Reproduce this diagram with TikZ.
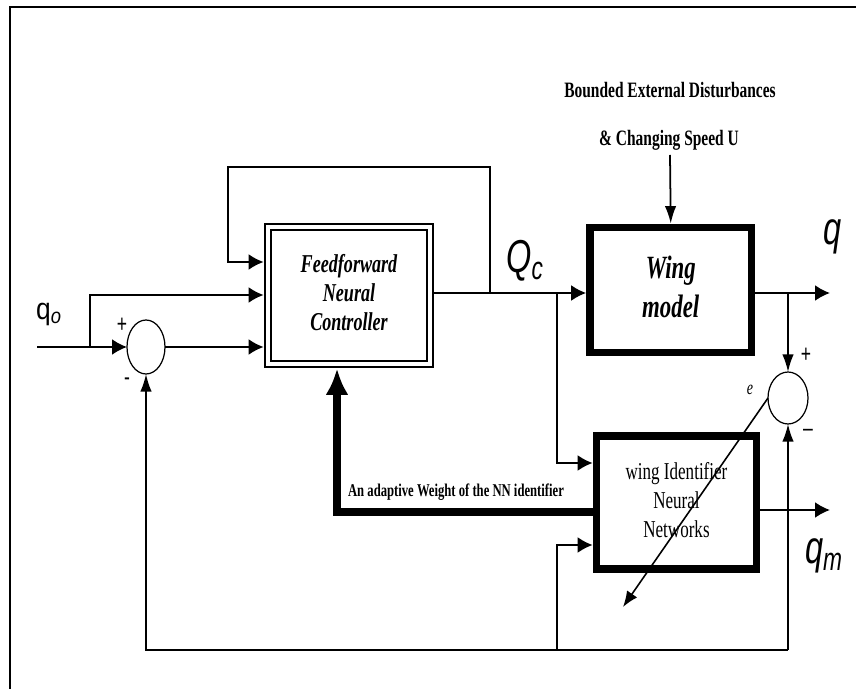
\documentclass[tikz,border=0pt]{standalone}
\usepackage{fontspec}
\setmainfont{Liberation Serif}
\setsansfont{Liberation Sans}
\usepackage{graphicx}
\usetikzlibrary{shapes.geometric,arrows.meta}
\newcommand{\tallt}[1]{\scalebox{1}[1.42]{#1}}

\begin{document}
\begin{tikzpicture}[
  ctrlbox/.style={rectangle, draw, double, line width=1.3pt, double distance=2.3pt,
                  minimum width=3.24cm, minimum height=2.74cm, inner sep=0pt, outer sep=2.5pt,
                  font=\fontsize{10.3}{11.6}\selectfont\bfseries\itshape},
  plantbox/.style={rectangle, draw, line width=4.4pt, inner sep=0pt,
                   minimum width=3.23cm},
  sumj/.style={ellipse, draw, line width=0.7pt, inner sep=0pt, outer sep=0pt},
  ln/.style={line width=1pt},
  sig/.style={ln, -{Latex[length=8.5pt,width=9pt]}},
  sigv/.style={ln, -{Latex[length=10pt,width=6.5pt]}},
  adapt/.style={line width=4pt, -{Latex[length=15pt,width=13pt]}},
  sgn/.style={font=\sffamily\fontsize{10}{10}\selectfont, inner sep=0pt},
  lbl/.style={font=\sffamily\itshape\fontsize{18.5}{18.5}\selectfont, inner sep=0pt}]

\useasboundingbox[fill=white] (0,0) rectangle (17.12,-13.78);
\draw[line width=1.2pt] (17.12,-0.14) -- (0.2,-0.14) -- (0.2,-13.78);

%% blocks
\node[ctrlbox] (ctrl) at (6.98,-5.91)
  {\tallt{\begin{tabular}{@{}c@{}}Feedforward\\Neural\\Controller\end{tabular}}};
\node[plantbox, minimum height=2.5cm, font=\fontsize{13}{16}\selectfont\bfseries\itshape]
  (wing) at (13.415,-5.8) {\tallt{\begin{tabular}{@{}c@{}}Wing\\model\end{tabular}}};
\node[plantbox, minimum width=3.2cm, minimum height=2.66cm, font=\fontsize{9.7}{11.6}\selectfont]
  (ident) at (13.53,-10.05)
  {\tallt{\begin{tabular}{@{}c@{}}wing Identifier\\Neural\\Networks\end{tabular}}};
\node[sumj, minimum width=0.76cm, minimum height=1.08cm] (sum1) at (2.92,-6.94) {};
\node[sumj, minimum width=0.8cm, minimum height=1.04cm] (sum2) at (15.76,-7.96) {};

%% labels
\node[font=\fontsize{8.8}{8.8}\selectfont\bfseries] (dist1) at (13.4,-1.8)
  {\tallt{Bounded External Disturbances}};
\node[font=\fontsize{8.8}{8.8}\selectfont\bfseries] (dist2) at (13.38,-2.8)
  {\tallt{\& Changing Speed U}};
\node[font=\sffamily\fontsize{15}{15}\selectfont, inner sep=0pt] (qo) at (0.98,-6.28)
  {\scalebox{1}[1.15]{q\textsubscript{\itshape o}}};
\node[lbl] (qc) at (10.5,-5.22) {\tallt{Q\textsubscript{c}}};
\node[lbl] (q) at (16.66,-4.74) {\tallt{q}};
\node[lbl] (qm) at (16.48,-11.12) {\tallt{q\textsubscript{m}}};
\node[font=\itshape\fontsize{8}{8}\selectfont, inner sep=0pt] (e) at (15.0,-7.8) {\tallt{e}};
\node[font=\bfseries\fontsize{7.2}{7.2}\selectfont, inner sep=0pt] (wlbl) at (9.12,-9.84)
  {\tallt{An adaptive Weight of the NN identifier}};
\node[sgn] (p1) at (2.44,-6.5) {\tallt{+}};
\node[sgn] (m1) at (2.54,-7.64) {\tallt{-}};
\node[sgn] (p2) at (16.12,-7.1) {\tallt{+}};
\node[sgn] (m2) at (16.16,-8.66) {\tallt{\textendash}};

%% junctions and free ends
\coordinate (qin) at (0.74,-6.94);
\coordinate (jq) at (1.8,-6.94);
\coordinate (jc) at (9.8,-5.86);
\coordinate (jd) at (11.14,-5.86);
\coordinate (tl) at (4.56,-3.34);
\coordinate (jw) at (15.76,-5.86);
\coordinate (qout) at (16.6,-5.86);
\coordinate (qmout) at (16.6,-10.2);
\coordinate (dsrc) at (13.4,-3.1);
\coordinate (bl) at (2.92,-13.0);
\coordinate (br) at (15.76,-13.0);
\coordinate (jb) at (11.14,-13.0);
\coordinate (ab) at (6.74,-10.24);
\coordinate (eend) at (12.46,-12.14);

%% connectors
\draw[sig] (qin) -- (sum1.west);
\draw[sig] (jq) |- (ctrl.west |- 0,-5.9);
\draw[sig] (sum1.east) -- (ctrl.west |- sum1.east);
\draw[sig] (jc) |- (tl) |- (ctrl.west |- 0,-5.24);
\draw[sig] (ctrl.east |- jc) -- (wing.west |- jc);
\draw[sig] (jd) |- (ident.west |- 0,-9.26);
\draw[sigv] (dsrc) -- (wing.north);
\draw[sig] (wing.east |- jw) -- (qout);
\draw[sigv] (jw) -- (sum2.north);
\draw[sig] (ident.east |- qmout) -- (qmout);
\draw[sigv] (br) -- (bl) -- (sum1.south);
\draw[sigv] (br) -- (sum2.south);
\draw[sig] (jb) |- (ident.west |- 0,-10.9);
\draw[adapt] (ident.west |- ab) -- (ab) -- (ab |- ctrl.south);
\draw[line width=0.9pt, -{Latex[length=9pt,width=7pt]}] (sum2.west) -- (eend);
\end{tikzpicture}
\end{document}
